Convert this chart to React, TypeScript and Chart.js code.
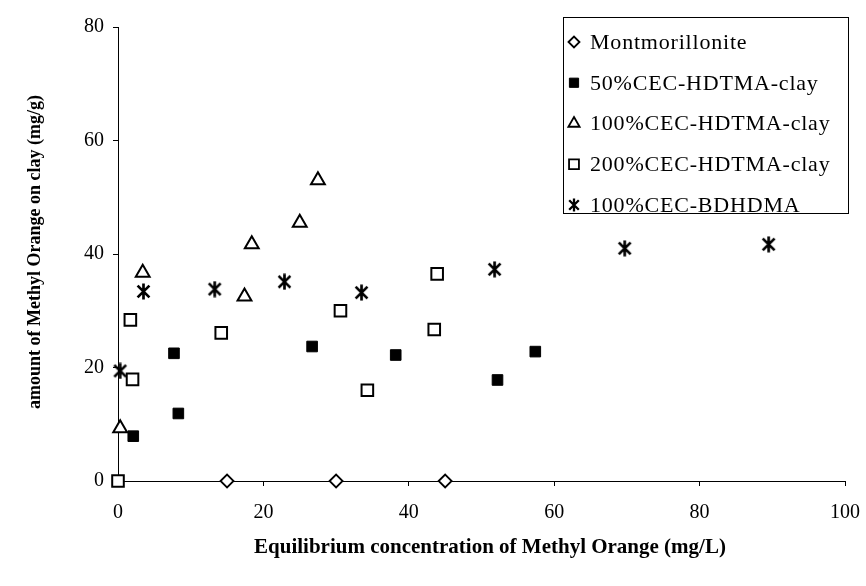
import React, { useEffect, useRef } from 'react';
import { Chart, registerables } from 'chart.js';
import { drawPoint } from 'chart.js/helpers';

Chart.register(...registerables);

// ---- data ----
const seriesLabels = [
  'Montmorillonite',
  '50%CEC-HDTMA-clay',
  '100%CEC-HDTMA-clay',
  '200%CEC-HDTMA-clay',
  '100%CEC-BDHDMA',
];

const montX = [15, 30, 45];
const montY = [0, 0, 0];

const hd50X = [2.1, 7.7, 8.3, 26.7, 38.2, 52.2, 57.4];
const hd50Y = [7.9, 22.5, 11.9, 23.7, 22.2, 17.8, 22.8];

const hd100X = [0.3, 3.4, 17.4, 18.4, 25.0, 27.5];
const hd100Y = [9.3, 36.7, 32.5, 41.7, 45.5, 53.0];

const hd200X = [0, 1.7, 2.0, 14.2, 30.6, 34.3, 43.5, 43.9];
const hd200Y = [0, 28.4, 17.9, 26.1, 30.0, 16.0, 26.7, 36.5];

const bdX = [0.3, 3.5, 13.3, 22.9, 33.5, 51.8, 69.7, 89.5];
const bdY = [19.4, 33.4, 33.8, 35.1, 33.2, 37.3, 41.0, 41.7];

const xTicks = [0, 20, 40, 60, 80, 100];
const yTicks = [0, 20, 40, 60, 80];

const xTitle = 'Equilibrium concentration of Methyl Orange (mg/L)';
const yTitle = 'amount of Methyl Orange on clay (mg/g)';

const FONT = '"Liberation Serif", "Times New Roman", serif';

function pts(xs: number[], ys: number[]) {
  return xs.map((x, i) => ({ x, y: ys[i] }));
}

function makeStar(size: number, lw: number): HTMLCanvasElement {
  const c = document.createElement('canvas');
  c.width = size;
  c.height = size;
  const g = c.getContext('2d')!;
  g.strokeStyle = '#000';
  g.lineWidth = lw;
  const h = size / 2;
  const r = h - 0.5;
  const d = r * 0.74;
  g.beginPath();
  g.moveTo(h, h - r);
  g.lineTo(h, h + r);
  g.moveTo(h - d, h - d);
  g.lineTo(h + d, h + d);
  g.moveTo(h + d, h - d);
  g.lineTo(h - d, h + d);
  g.stroke();
  return c;
}

export default function App() {
  const ref = useRef<HTMLCanvasElement | null>(null);

  useEffect(() => {
    if (!ref.current) return;
    const starData = makeStar(17, 2.7);
    const starLegend = makeStar(14, 2.3);

    const legendMarkers: any[] = [
      { pointStyle: 'rectRot', radius: 5.5, borderWidth: 1.8, fill: '#fff' },
      { pointStyle: 'rect', radius: 6.5, borderWidth: 1, fill: '#000' },
      { pointStyle: 'triangle', radius: 6.5, borderWidth: 1.8, fill: '#fff' },
      { pointStyle: 'rect', radius: 7, borderWidth: 1.8, fill: '#fff' },
      { pointStyle: starLegend, radius: 6, borderWidth: 0, fill: '#000' },
    ];

    const decorPlugin = {
      id: 'decor',
      afterDraw(chart: any) {
        const ctx = chart.ctx as CanvasRenderingContext2D;
        ctx.save();
        // legend box
        ctx.strokeStyle = '#000';
        ctx.lineWidth = 1;
        ctx.fillStyle = '#fff';
        ctx.fillRect(563, 17, 285, 196);
        ctx.strokeRect(563.5, 17.5, 285, 196);
        ctx.font = `22px ${FONT}`;
        (ctx as any).letterSpacing = '0.8px';
        ctx.textBaseline = 'middle';
        ctx.textAlign = 'left';
        chart.data.datasets.forEach((ds: any, i: number) => {
          const y = 42 + i * 40.75;
          const m = legendMarkers[i];
          ctx.fillStyle = m.fill;
          ctx.strokeStyle = '#000';
          ctx.lineWidth = m.borderWidth;
          drawPoint(ctx, { pointStyle: m.pointStyle, radius: m.radius, borderWidth: m.borderWidth, rotation: 0 } as any, 574, y);
          ctx.fillStyle = '#000';
          ctx.fillText(ds.label, 590, y + 1);
        });
        (ctx as any).letterSpacing = '0px';
        // axis titles
        ctx.fillStyle = '#000';
        ctx.textAlign = 'center';
        ctx.textBaseline = 'middle';
        ctx.font = `bold 21px ${FONT}`;
        ctx.fillText(xTitle, 490, 548);
        ctx.translate(35, 252);
        ctx.rotate(-Math.PI / 2);
        ctx.font = `bold 18px ${FONT}`;
        ctx.fillText(yTitle, 0, 0);
        ctx.restore();
      },
    };

    const common = { clip: false as any, pointBorderColor: '#000' };

    const chart = new Chart(ref.current, {
      type: 'scatter',
      data: {
        datasets: [
          {
            ...common,
            label: seriesLabels[0],
            data: pts(montX, montY),
            pointStyle: 'rectRot',
            pointRadius: 6.5,
            pointBorderWidth: 1.8,
            pointBackgroundColor: '#fff',
          },
          {
            ...common,
            label: seriesLabels[1],
            data: pts(hd50X, hd50Y),
            pointStyle: 'rect',
            pointRadius: 7.5,
            pointBorderWidth: 1,
            pointBackgroundColor: '#000',
          },
          {
            ...common,
            label: seriesLabels[2],
            data: pts(hd100X, hd100Y),
            pointStyle: 'triangle',
            pointRadius: 8,
            pointBorderWidth: 2,
            pointBackgroundColor: '#fff',
          },
          {
            ...common,
            label: seriesLabels[3],
            data: pts(hd200X, hd200Y),
            pointStyle: 'rect',
            pointRadius: 8.2,
            pointBorderWidth: 2,
            pointBackgroundColor: '#fff',
          },
          {
            ...common,
            label: seriesLabels[4],
            data: pts(bdX, bdY),
            pointStyle: starData as any,
            pointRadius: 8,
            pointBackgroundColor: '#000',
          },
        ],
      },
      options: {
        responsive: false,
        animation: false,
        devicePixelRatio: 1,
        layout: { padding: { left: 0, right: 21, top: 27, bottom: 0 } },
        plugins: {
          legend: { display: false },
          tooltip: { enabled: false },
        },
        scales: {
          x: {
            type: 'linear',
            min: 0,
            max: 100,
            afterFit: (a: any) => { a.height = 105; a.paddingLeft = 0; a.paddingRight = 0; },
            afterBuildTicks: (a: any) => { a.ticks = xTicks.map((v) => ({ value: v })); },
            border: { display: true, color: '#000', width: 1 },
            grid: { display: true, drawOnChartArea: false, drawTicks: true, tickLength: 5, color: '#000' },
            ticks: { color: '#000', font: { family: FONT, size: 20 }, padding: 15, maxRotation: 0 },
            title: { display: false },
          },
          y: {
            type: 'linear',
            min: 0,
            max: 80,
            afterFit: (a: any) => { a.width = 118; a.paddingTop = 0; a.paddingBottom = 0; },
            afterBuildTicks: (a: any) => { a.ticks = yTicks.map((v) => ({ value: v })); },
            border: { display: true, color: '#000', width: 1 },
            grid: { display: true, drawOnChartArea: false, drawTicks: true, tickLength: 5, color: '#000' },
            ticks: { color: '#000', font: { family: FONT, size: 20 }, padding: 9 },
            title: { display: false },
          },
        },
      },
      plugins: [decorPlugin],
    });

    return () => chart.destroy();
  }, []);

  return (
    <div style={{ position: 'absolute', left: 0, top: 0, width: 866, height: 586, background: '#fff' }}>
      <canvas ref={ref} width={866} height={586} style={{ width: 866, height: 586, display: 'block' }} />
    </div>
  );
}
